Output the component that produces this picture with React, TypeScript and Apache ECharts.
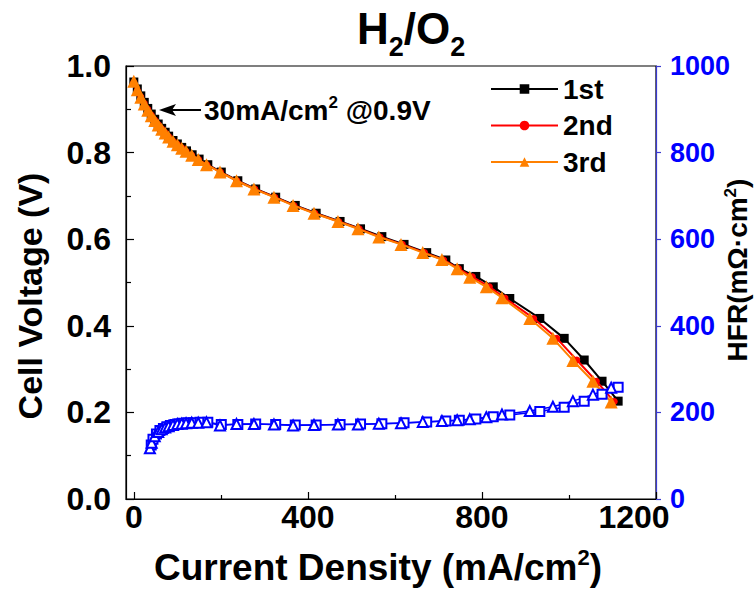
import React, { useEffect, useRef } from "react";
import * as echarts from "echarts";

// Polarization curves: current density (mA/cm2) and cell voltage (V)
const cur1 = [0, 8, 16, 24, 32, 40, 48, 56, 64, 72, 80, 90, 100, 110, 121, 134, 150, 170, 201, 239, 280, 326, 371, 419, 474, 521, 570, 621, 673, 717, 748, 786, 826, 864, 933, 989, 1035, 1076, 1113];
const volt1 = [0.963, 0.947, 0.931, 0.916, 0.902, 0.889, 0.877, 0.866, 0.856, 0.847, 0.838, 0.828, 0.82, 0.812, 0.804, 0.795, 0.785, 0.772, 0.755, 0.735, 0.716, 0.697, 0.678, 0.66, 0.641, 0.624, 0.606, 0.588, 0.569, 0.552, 0.532, 0.514, 0.49, 0.463, 0.417, 0.371, 0.321, 0.272, 0.226];

const cur2 = [0, 8, 16, 24, 32, 40, 48, 56, 64, 72, 80, 90, 100, 110, 120, 133, 149, 168, 199, 237, 278, 324, 368, 416, 471, 518, 566, 617, 668, 712, 746, 778, 817, 853, 919, 972, 1018, 1063, 1104];
const volt2 = [0.962, 0.944, 0.929, 0.914, 0.9, 0.887, 0.875, 0.865, 0.855, 0.846, 0.837, 0.827, 0.819, 0.811, 0.803, 0.794, 0.784, 0.772, 0.755, 0.735, 0.716, 0.697, 0.678, 0.66, 0.641, 0.624, 0.605, 0.588, 0.569, 0.552, 0.532, 0.513, 0.49, 0.464, 0.417, 0.371, 0.321, 0.272, 0.225];

const cur3 = [0, 8, 16, 24, 32, 40, 48, 56, 64, 72, 80, 90, 100, 110, 120, 133, 148, 167, 198, 236, 276, 322, 366, 414, 469, 515, 563, 614, 664, 708, 743, 772, 810, 846, 910, 963, 1009, 1055, 1097];
const volt3 = [0.965, 0.945, 0.928, 0.912, 0.898, 0.885, 0.874, 0.864, 0.854, 0.845, 0.836, 0.826, 0.818, 0.81, 0.803, 0.794, 0.784, 0.772, 0.755, 0.735, 0.716, 0.697, 0.678, 0.66, 0.641, 0.624, 0.605, 0.588, 0.569, 0.553, 0.532, 0.512, 0.49, 0.465, 0.417, 0.371, 0.32, 0.272, 0.224];

// High-frequency resistance (mOhm cm2)
const hfrCur1 = [40, 44, 52, 60, 68, 76, 84, 94, 104, 114, 124, 137, 152, 170, 201, 239, 280, 326, 371, 419, 474, 521, 570, 621, 673, 717, 748, 786, 826, 864, 933, 989, 1035, 1076, 1113];
const hfr1 = [125, 138, 150, 158, 163, 167, 170, 172, 174, 175, 176, 176, 177, 177, 172, 172, 173, 172, 171, 171, 172, 173, 174, 176, 178, 180, 182, 185, 190, 194, 202, 212, 226, 242, 258];

const hfrCur3 = [37, 41, 48, 56, 64, 72, 80, 90, 100, 110, 120, 133, 148, 167, 198, 236, 276, 322, 366, 414, 469, 515, 563, 614, 664, 708, 743, 772, 810, 846, 910, 963, 1009, 1055, 1097];
const hfr3 = [117, 130, 145, 155, 161, 165, 168, 171, 173, 174, 175, 176, 176, 177, 170, 173, 173, 172, 170, 171, 172, 172, 174, 175, 178, 180, 182, 184, 189, 195, 203, 213, 226, 241, 257];

const seriesNames = ["1st", "2nd", "3rd"];
const xMajorTicks = [0, 400, 800, 1200];
const xMinorTicks = [200, 600, 1000];

const FONT = "'Liberation Sans', Arial, sans-serif";
const BLUE = "#0000ff";

const zip = (xs: number[], ys: number[]) => xs.map((x, i) => [x, ys[i]]);

export default function App() {
  const ref = useRef<HTMLDivElement>(null);

  useEffect(() => {
    const chart = echarts.init(ref.current!, null, { renderer: "svg" });
    const tickText = { fontFamily: FONT, fontWeight: "bold", fontSize: 32, color: "#000" };
    const option: any = {
      animation: false,
      backgroundColor: "#fff",
      textStyle: { fontFamily: FONT },
      grid: {
        left: 126,
        top: 66,
        width: 530,
        height: 433,
        show: true,
        borderColor: "#000",
        borderWidth: 1.2,
        backgroundColor: "transparent",
      },
      legend: {
        data: seriesNames,
        orient: "vertical",
        left: 490,
        top: 75,
        padding: 0,
        itemWidth: 67,
        itemHeight: 12,
        itemGap: 8.5,
        textStyle: { fontFamily: FONT, fontWeight: "bold", fontSize: 28, color: "#000", lineHeight: 28 },
      },
      xAxis: [
        {
          type: "value",
          min: -18,
          max: 1200,
          position: "bottom",
          splitLine: { show: false },
          axisLine: { show: true, onZero: false, lineStyle: { color: "#000", width: 1.2 } },
          axisTick: { show: true, inside: true, length: 7, customValues: xMajorTicks, lineStyle: { color: "#000", width: 1.2 } },
          axisLabel: {
            customValues: xMajorTicks,
            margin: 2,
            ...tickText,
            // the last label is nudged left so it clears the right axis' "0"
            formatter: (v: number) => (v === 1200 ? `{r|${v}}` : `${v}`),
            rich: { r: { ...tickText, padding: [0, 44, 0, 0] } },
          },
        },
        {
          type: "value",
          min: -18,
          max: 1200,
          position: "bottom",
          splitLine: { show: false },
          axisLine: { show: false, onZero: false },
          axisTick: { show: true, inside: true, length: 4, customValues: xMinorTicks, lineStyle: { color: "#000", width: 1.2 } },
          axisLabel: { show: false },
        },
      ],
      yAxis: [
        {
          type: "value",
          min: 0,
          max: 1,
          interval: 0.2,
          position: "left",
          splitLine: { show: false },
          axisLine: { show: true, onZero: false, lineStyle: { color: "#000", width: 1.2 } },
          axisTick: { show: true, inside: true, length: 8, lineStyle: { color: "#000", width: 1.2 } },
          minorTick: { show: true, splitNumber: 2, length: 5, lineStyle: { color: "#000", width: 1.2 } },
          axisLabel: {
            margin: 15,
            ...tickText,
            formatter: (v: number) => v.toFixed(1),
          },
        },
        {
          type: "value",
          min: 0,
          max: 1000,
          interval: 200,
          position: "right",
          splitLine: { show: false },
          axisLine: { show: true, onZero: false, lineStyle: { color: "#3a3ad0", width: 1.2 } },
          axisTick: { show: true, inside: false, length: 5, lineStyle: { color: "#3a3ad0", width: 1.2 } },
          axisLabel: {
            margin: 14,
            fontFamily: FONT,
            fontWeight: "bold",
            fontSize: 27,
            color: BLUE,
            formatter: (v: number) => `${v}`,
          },
        },
      ],
      series: [
        {
          name: "1st",
          type: "line",
          data: zip(cur1, volt1),
          symbol: "rect",
          symbolSize: 9,
          itemStyle: { color: "#000" },
          lineStyle: { color: "#000", width: 2 },
          z: 2,
        },
        {
          name: "2nd",
          type: "line",
          data: zip(cur2, volt2),
          symbol: "circle",
          symbolSize: 7,
          itemStyle: { color: "#ff0000" },
          lineStyle: { color: "#ff0000", width: 2 },
          z: 3,
        },
        {
          name: "3rd",
          type: "line",
          data: zip(cur3, volt3),
          symbol: "triangle",
          symbolSize: 13,
          itemStyle: { color: "#ff8000" },
          lineStyle: { color: "#ff8000", width: 2 },
          z: 4,
        },
        {
          name: "HFR 1st",
          type: "line",
          yAxisIndex: 1,
          data: zip(hfrCur1, hfr1),
          symbol: "emptyRect",
          symbolSize: 9,
          itemStyle: { color: BLUE, borderColor: BLUE, borderWidth: 1 },
          lineStyle: { color: BLUE, width: 1.5 },
          z: 5,
        },
        {
          name: "HFR 3rd",
          type: "line",
          yAxisIndex: 1,
          data: zip(hfrCur3, hfr3),
          symbol: "emptyTriangle",
          symbolSize: 10,
          itemStyle: { color: BLUE, borderColor: BLUE, borderWidth: 1 },
          lineStyle: { color: BLUE, width: 1.5 },
          z: 5,
        },
      ],
      graphic: [
        {
          type: "text",
          left: 357,
          top: 6,
          style: {
            text: "{b|H}{s|2}{b|/O}{s|2}",
            rich: {
              b: { fontFamily: FONT, fontWeight: "bold", fontSize: 44, fill: "#000", verticalAlign: "bottom" },
              s: { fontFamily: FONT, fontWeight: "bold", fontSize: 27, fill: "#000", verticalAlign: "bottom", padding: [0, 0, -10, 0] },
            },
          },
        },
        {
          type: "text",
          x: 204,
          y: 110,
          style: {
            text: "{t|30mA/cm}{u|2}{t| @0.9V}",
            verticalAlign: "middle",
            rich: {
              t: { fontFamily: FONT, fontWeight: "bold", fontSize: 28, fill: "#000" },
              u: { fontFamily: FONT, fontWeight: "bold", fontSize: 17, fill: "#000", padding: [0, 0, 15, 0] },
            },
          },
        },
        {
          type: "line",
          shape: { x1: 170, y1: 110, x2: 201, y2: 110 },
          style: { stroke: "#000", lineWidth: 2 },
        },
        {
          type: "polygon",
          shape: { points: [[159, 110], [176, 104], [172, 110], [176, 116]] },
          style: { fill: "#000" },
        },
        {
          type: "text",
          x: 378,
          y: 567,
          style: {
            text: "{t|Current Density (mA/cm}{u|2}{t|)}",
            align: "center",
            verticalAlign: "middle",
            rich: {
              t: { fontFamily: FONT, fontWeight: "bold", fontSize: 37, fill: "#000" },
              u: { fontFamily: FONT, fontWeight: "bold", fontSize: 22, fill: "#000", padding: [0, 0, 20, 0] },
            },
          },
        },
        {
          type: "text",
          x: 30,
          y: 296,
          rotation: Math.PI / 2,
          style: {
            text: "Cell Voltage (V)",
            align: "center",
            verticalAlign: "middle",
            fontFamily: FONT,
            fontWeight: "bold",
            fontSize: 34,
            fill: "#000",
          },
        },
        {
          type: "text",
          x: 737,
          y: 270,
          rotation: Math.PI / 2,
          style: {
            text: "{t|HFR(mΩ·cm}{u|2}{t|)}",
            align: "center",
            verticalAlign: "middle",
            rich: {
              t: { fontFamily: FONT, fontWeight: "bold", fontSize: 28, fill: "#000" },
              u: { fontFamily: FONT, fontWeight: "bold", fontSize: 17, fill: "#000", padding: [0, 0, 14, 0] },
            },
          },
        },
      ],
    };
    chart.setOption(option);
    return () => chart.dispose();
  }, []);

  return (
    <div
      ref={ref}
      style={{ position: "fixed", left: 0, top: 0, width: 756, height: 590 }}
    />
  );
}
